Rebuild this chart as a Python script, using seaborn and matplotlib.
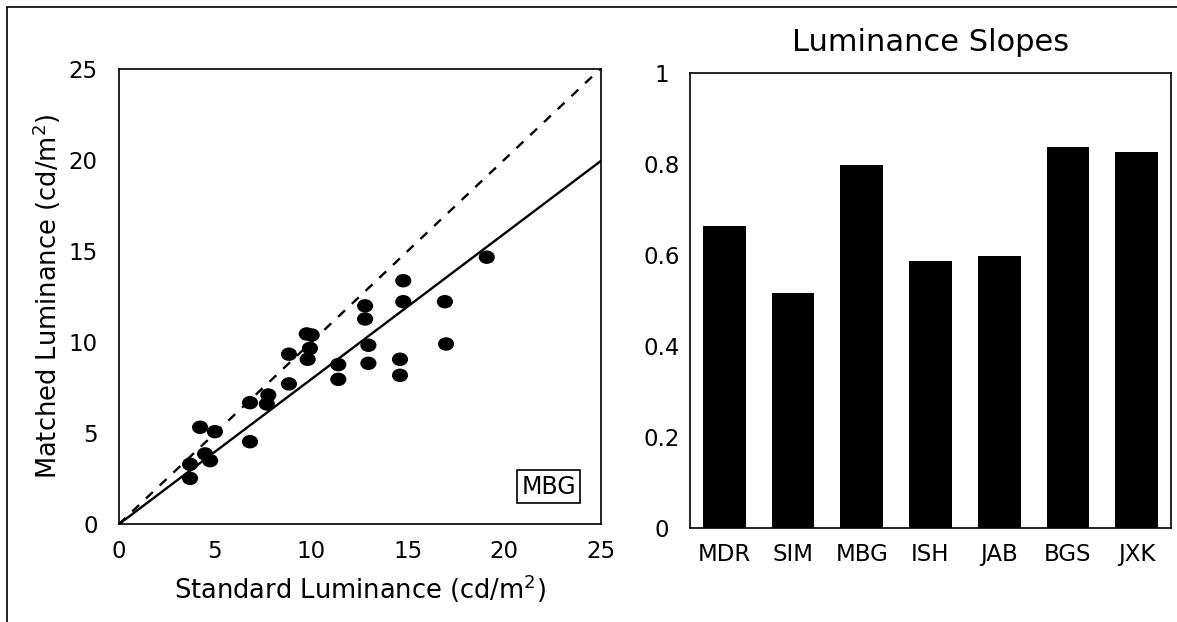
import numpy as np
import pandas as pd
import matplotlib
matplotlib.use("Agg")
import matplotlib.pyplot as plt
from matplotlib.lines import Line2D
from matplotlib.path import Path
import seaborn as sns

# ---- data ----
standard_lum = [3.71, 3.71, 4.23, 5.00, 4.49, 4.75, 6.82, 6.82, 7.69, 7.77,
                8.84, 8.84, 9.76, 10.02, 9.93, 9.81, 11.40, 11.40, 12.79, 12.79,
                12.96, 12.96, 14.60, 14.60, 14.77, 14.77, 16.93, 16.99, 19.10]
matched_lum = [3.30, 2.53, 5.33, 5.09, 3.87, 3.50, 6.68, 4.54, 6.61, 7.10,
               9.34, 7.71, 10.45, 10.39, 9.66, 9.06, 8.77, 7.96, 11.99, 11.27,
               9.83, 8.84, 9.06, 8.18, 13.37, 12.22, 12.22, 9.90, 14.66]
subjects = ["MDR", "SIM", "MBG", "ISH", "JAB", "BGS", "JXK"]
slopes = [0.664, 0.517, 0.797, 0.587, 0.597, 0.838, 0.827]
line_x = [0, 25]
shown_subject = "MBG"

sns.set_style("white")
plt.rcParams['font.family'] = ['DejaVu Sans']
plt.rcParams['axes.edgecolor'] = 'black'
plt.rcParams['axes.linewidth'] = 1.2
plt.rcParams['text.color'] = 'black'
plt.rcParams['axes.labelcolor'] = 'black'
plt.rcParams['xtick.color'] = 'black'
plt.rcParams['ytick.color'] = 'black'

fig = plt.figure(figsize=(11.77, 6.22), dpi=100)
ax1 = fig.add_axes([0.1007, 0.1568, 0.4095, 0.7328])
ax2 = fig.add_axes([0.5862, 0.1519, 0.4087, 0.7307])

# ---- scatter panel ----
circ = Path.unit_circle()
ellipse = Path(circ.vertices * np.array([1.2, 1.0]), circ.codes)
df = pd.DataFrame({"x": standard_lum, "y": matched_lum})
sns.scatterplot(data=df, x="x", y="y", ax=ax1, color="black", marker=ellipse,
                s=135, edgecolor="none", zorder=3)
slope = slopes[subjects.index(shown_subject)]
ident = pd.DataFrame({"x": line_x, "y": line_x})
fit = pd.DataFrame({"x": line_x, "y": [v * slope for v in line_x]})
sns.lineplot(data=ident, x="x", y="y", ax=ax1, color="black", lw=1.7,
             linestyle=(0, (4, 4)))
sns.lineplot(data=fit, x="x", y="y", ax=ax1, color="black", lw=1.7)
ax1.set_xlim(0, 25)
ax1.set_ylim(0, 25)
ax1.set_xticks([0, 5, 10, 15, 20, 25])
ax1.set_yticks([0, 5, 10, 15, 20, 25])
ax1.set_xticklabels(["0", "5", "10", "15", "20", "25"])
ax1.set_yticklabels(["0", "5", "10", "15", "20", "25"])
ax1.tick_params(axis='both', length=0, labelsize=16.5)
ax1.tick_params(axis='x', pad=11)
ax1.tick_params(axis='y', pad=15)
ax1.set_xlabel("Standard Luminance (cd/m$^2$)", fontsize=18.5, labelpad=7)
ax1.set_ylabel("Matched Luminance (cd/m$^2$)", fontsize=18.5, labelpad=4)
ax1.text(0.893, 0.083, shown_subject, transform=ax1.transAxes, fontsize=17,
         ha='center', va='center',
         bbox=dict(boxstyle='square,pad=0.18', fc='white', ec='black', lw=1.2))

# ---- bar panel ----
bdf = pd.DataFrame({"subject": subjects, "slope": slopes})
sns.barplot(data=bdf, x="subject", y="slope", ax=ax2, color="black",
            saturation=1, width=0.62, edgecolor="none")
ax2.set_xlim(-0.5, len(subjects) - 0.5)
ax2.set_ylim(0, 1)
ax2.set_yticks([0, 0.2, 0.4, 0.6, 0.8, 1.0])
ax2.set_yticklabels(["0", "0.2", "0.4", "0.6", "0.8", "1"])
ax2.tick_params(axis='both', length=0, labelsize=16.5)
ax2.tick_params(axis='x', pad=11)
ax2.tick_params(axis='y', pad=20)
for lab in ax2.get_yticklabels():
    lab.set_horizontalalignment('center')
ax2.set_xlabel("")
ax2.set_ylabel("")
ax2.set_title("Luminance Slopes", fontsize=22, pad=16)

for ax in (ax1, ax2):
    for sp in ax.spines.values():
        sp.set_visible(True)
        sp.set_color('black')

# figure border (top and left)
fig.add_artist(Line2D([7 / 1177, 1.0], [1 - 7 / 622, 1 - 7 / 622],
                      transform=fig.transFigure, color='black', lw=1.2))
fig.add_artist(Line2D([7 / 1177, 7 / 1177], [0.0, 1 - 7 / 622],
                      transform=fig.transFigure, color='black', lw=1.2))

fig.savefig("out.png", dpi=100)
